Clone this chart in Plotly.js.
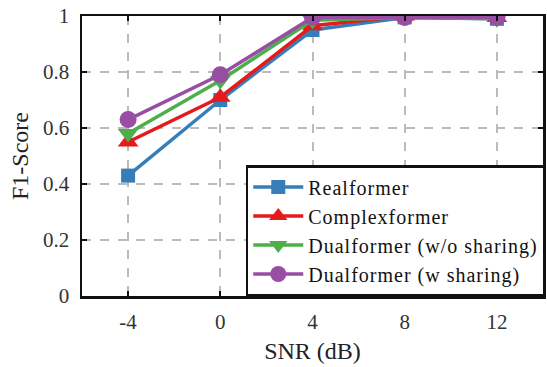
<!DOCTYPE html>
<html><head><meta charset="utf-8">
<script src="https://cdn.plot.ly/plotly-3.0.1.min.js"></script>
<style>html,body{margin:0;padding:0;background:#fff}#chart{width:547px;height:367px}
.legendtext{letter-spacing:1px}</style>
</head><body><div id="chart"></div>
<script>
var snr = [-4, 0, 4, 8, 12];
var xTickLabels = ["-4", "0", "4", "8", "12"];
var seriesNames = ["Realformer", "Complexformer", "Dualformer (w/o sharing)", "Dualformer (w sharing)"];
var realformer = [0.43, 0.70, 0.95, 0.995, 0.99];
var complexformer = [0.55, 0.71, 0.965, 1.0, 0.995];
var dualNoShare = [0.58, 0.77, 0.985, 0.995, 0.99];
var dualShare = [0.63, 0.79, 0.995, 0.995, 0.995];

var colors = ["#377eb8", "#e41a1c", "#4daf4a", "#984ea3"];
var symbols = ["square", "triangle-up", "triangle-down", "circle"];
var sizes = [14, 18, 18, 17];
var values = [realformer, complexformer, dualNoShare, dualShare];

var traces = values.map(function(v, i){
  return {x: snr, y: v, name: seriesNames[i], type: "scatter", mode: "lines+markers",
    line: {color: colors[i], width: 3.5},
    marker: {symbol: symbols[i], size: sizes[i], color: colors[i]}};
});

var fam = "Liberation Serif, Times New Roman, serif";
var layout = {
  width: 547, height: 367,
  margin: {l: 82, r: 1, t: 16, b: 71},
  paper_bgcolor: "#fff", plot_bgcolor: "#fff",
  font: {family: fam, size: 22, color: "#222"},
  showlegend: true,
  legend: {x: 1.006, y: 0, xanchor: "right", yanchor: "bottom", bgcolor: "#fff",
    bordercolor: "#111", borderwidth: 2.5, font: {family: fam, size: 20, color: "#111"},
    itemwidth: 50, tracegroupgap: 0},
  xaxis: {range: [-6, 14], tickvals: snr, ticktext: xTickLabels,
    showgrid: true, gridcolor: "#bbbbbb", griddash: "dash", gridwidth: 2,
    zeroline: false, showline: true, linecolor: "#111", linewidth: 2.5, mirror: "ticks",
    ticks: "inside", ticklen: 5, tickwidth: 2, tickcolor: "#111", ticklabelstandoff: 5,
    tickfont: {family: fam, size: 21, color: "#333"},
    title: {text: "SNR (dB)", font: {family: fam, size: 24, color: "#222"}, standoff: 10}},
  yaxis: {range: [0, 1], dtick: 0.2, tick0: 0,
    showgrid: true, gridcolor: "#bbbbbb", griddash: "dash", gridwidth: 2,
    zeroline: false, showline: true, linecolor: "#111", linewidth: 2.5, mirror: "ticks",
    ticks: "inside", ticklen: 5, tickwidth: 2, tickcolor: "#111", ticklabelstandoff: 6,
    tickfont: {family: fam, size: 21, color: "#333"},
    title: {text: "F1-Score", font: {family: fam, size: 24, color: "#222"}, standoff: 8}}
};
Plotly.newPlot("chart", traces, layout, {displayModeBar: false, staticPlot: true});
</script></body></html>
